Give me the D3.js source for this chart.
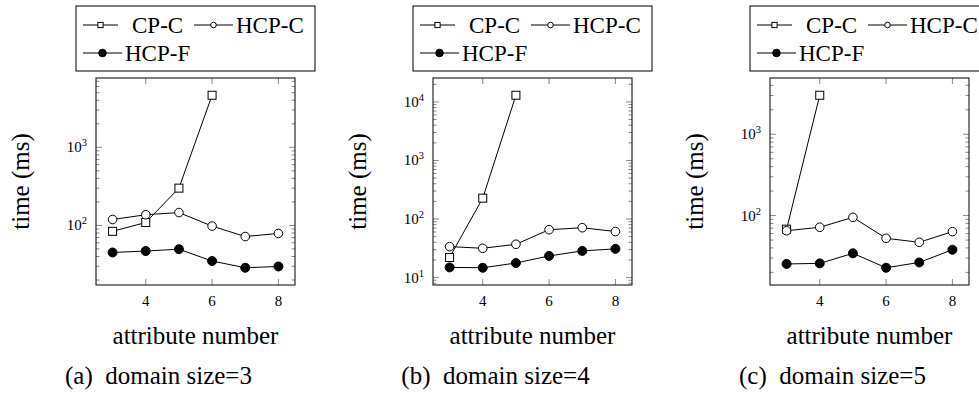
<!DOCTYPE html>
<html>
<head>
<meta charset="utf-8">
<script src="https://cdn.jsdelivr.net/npm/d3@7"></script>
<style>
  html, body { margin: 0; padding: 0; background: #fff; }
  svg { display: block; }
</style>
</head>
<body>
<svg id="chart" width="979" height="398"></svg>
<script>
// ---- data ----
const attributeNumbers = [3, 4, 5, 6, 7, 8];
const xTickValues = [4, 6, 8];
const seriesNames = ["CP-C", "HCP-C", "HCP-F"];
const captions = ["(a)\u00A0 domain size=3", "(b)\u00A0 domain size=4", "(c)\u00A0 domain size=5"];

// domain size = 3
const cpcA  = [84, 109, 300, 4640];
const hcpcA = [119, 137, 146, 98, 72, 79];
const hcpfA = [45, 47, 49.6, 35, 28.7, 29.8];
// domain size = 4
const cpcB  = [22, 227, 13000];
const hcpcB = [33.8, 31.6, 37, 65.6, 71, 61];
const hcpfB = [14.9, 14.7, 17.7, 23.4, 28.5, 30.9];
// domain size = 5
const cpcC  = [68, 3020];
const hcpcC = [65, 71.8, 95, 52.5, 46.9, 63.4];
const hcpfC = [25.4, 25.8, 34.3, 22.8, 26.5, 38];

const panelsData = [
  [cpcA, hcpcA, hcpfA],
  [cpcB, hcpcB, hcpfB],
  [cpcC, hcpcC, hcpfC]
];

// ---- layout ----
const FONT = "Liberation Serif";
const svg = d3.select("#chart");
const panelLefts = [96, 433, 770];
const plotW = 199, plotTop = 78, plotBottom = 285;

function txt(g) {
  return g.append("text").attr("font-family", FONT).attr("fill", "#000");
}

panelsData.forEach((series, pi) => {
  const left = panelLefts[pi];
  const right = left + plotW;
  const x = d3.scaleLinear().domain([2.5, 8.5]).range([left, right]);

  const allVals = series.flat();
  const lmin = Math.log10(d3.min(allVals)), lmax = Math.log10(d3.max(allVals));
  const pad = (lmax - lmin) * 0.1;
  const y = d3.scaleLog().domain([Math.pow(10, lmin - pad), Math.pow(10, lmax + pad)]).range([plotBottom, plotTop]);

  const g = svg.append("g");

  // minor + major y ticks (log)
  const [d0, d1] = y.domain();
  const minors = [], majors = [];
  for (let e = Math.floor(Math.log10(d0)); e <= Math.ceil(Math.log10(d1)); e++) {
    for (let m = 1; m <= 9; m++) {
      const v = m * Math.pow(10, e);
      if (v >= d0 && v <= d1) (m === 1 ? majors : minors).push(v);
    }
  }
  const tickColor = "#8a8a8a";
  minors.forEach(v => {
    [[left, left + 3.5], [right, right - 3.5]].forEach(([a, b]) => {
      g.append("line").attr("x1", a).attr("x2", b).attr("y1", y(v)).attr("y2", y(v))
        .attr("stroke", tickColor).attr("stroke-width", 1);
    });
  });
  majors.forEach(v => {
    [[left, left + 6], [right, right - 6]].forEach(([a, b]) => {
      g.append("line").attr("x1", a).attr("x2", b).attr("y1", y(v)).attr("y2", y(v))
        .attr("stroke", tickColor).attr("stroke-width", 1);
    });
    const e = Math.round(Math.log10(v));
    const t = txt(g).attr("x", left - 9).attr("y", y(v) + 5)
      .attr("text-anchor", "end").attr("font-size", 15);
    t.append("tspan").text("10");
    t.append("tspan").attr("dy", -6).attr("font-size", 10.5).text(String(e));
  });

  // x ticks
  xTickValues.forEach(v => {
    [[plotBottom, plotBottom - 6], [plotTop, plotTop + 6]].forEach(([a, b]) => {
      g.append("line").attr("x1", x(v)).attr("x2", x(v)).attr("y1", a).attr("y2", b)
        .attr("stroke", tickColor).attr("stroke-width", 1);
    });
    txt(g).attr("x", x(v)).attr("y", plotBottom + 21)
      .attr("text-anchor", "middle").attr("font-size", 15).text(v);
  });

  // axis box
  g.append("rect").attr("x", left).attr("y", plotTop).attr("width", plotW)
    .attr("height", plotBottom - plotTop).attr("fill", "none").attr("stroke", "#000").attr("stroke-width", 1);

  // series
  const line = d3.line().x(d => x(d[0])).y(d => y(d[1]));
  series.forEach((vals, si) => {
    const pts = vals.map((v, i) => [attributeNumbers[i], v]);
    g.append("path").attr("d", line(pts)).attr("fill", "none").attr("stroke", "#000").attr("stroke-width", 1);
    pts.forEach(p => drawMarker(g, si, x(p[0]), y(p[1]), 1));
  });

  // axis labels
  txt(g).attr("transform", `translate(${left - 67},${(plotTop + plotBottom) / 2}) rotate(-90)`)
    .attr("text-anchor", "middle").attr("font-size", 25).text("time (ms)");
  txt(g).attr("x", (left + right) / 2).attr("y", plotBottom + 59)
    .attr("text-anchor", "middle").attr("font-size", 25).text("attribute number");
  txt(g).attr("x", (left + right) / 2 - 37).attr("y", plotBottom + 99)
    .attr("text-anchor", "middle").attr("font-size", 25).text(captions[pi]);

  // legend
  const lx = left - 20, ly = 6;
  const lg = svg.append("g");
  lg.append("rect").attr("x", lx).attr("y", ly).attr("width", 239).attr("height", 65)
    .attr("fill", "#fff").attr("stroke", "#000").attr("stroke-width", 1);
  const entries = [
    {si: 0, x0: lx + 7, row: 0, tx: lx + 56},
    {si: 1, x0: lx + 118, row: 0, tx: lx + 160},
    {si: 2, x0: lx + 7, row: 1, tx: lx + 49}
  ];
  entries.forEach(en => {
    const cy = ly + 19 + en.row * 28;
    const x1 = en.si === 0 ? en.x0 + 35 : en.x0 + 39;
    lg.append("line").attr("x1", en.x0).attr("x2", x1).attr("y1", cy).attr("y2", cy)
      .attr("stroke", "#000").attr("stroke-width", 1);
    drawMarker(lg, en.si, (en.x0 + x1) / 2, cy, en.si === 2 ? 0.85 : 0.65);
    txt(lg).attr("x", en.tx).attr("y", cy + 8).attr("font-size", 23).text(seriesNames[en.si]);
  });
});

function drawMarker(g, si, cx, cy, s) {
  if (si === 0) {
    const h = 4 * s;
    g.append("rect").attr("x", cx - h).attr("y", cy - h).attr("width", 2 * h).attr("height", 2 * h)
      .attr("fill", "#fff").attr("stroke", "#000").attr("stroke-width", 1);
  } else if (si === 1) {
    g.append("circle").attr("cx", cx).attr("cy", cy).attr("r", 4.3 * s)
      .attr("fill", "#fff").attr("stroke", "#000").attr("stroke-width", 1);
  } else {
    g.append("circle").attr("cx", cx).attr("cy", cy).attr("r", 4.5 * s)
      .attr("fill", "#000").attr("stroke", "#000").attr("stroke-width", 1);
  }
}
</script>
</body>
</html>
